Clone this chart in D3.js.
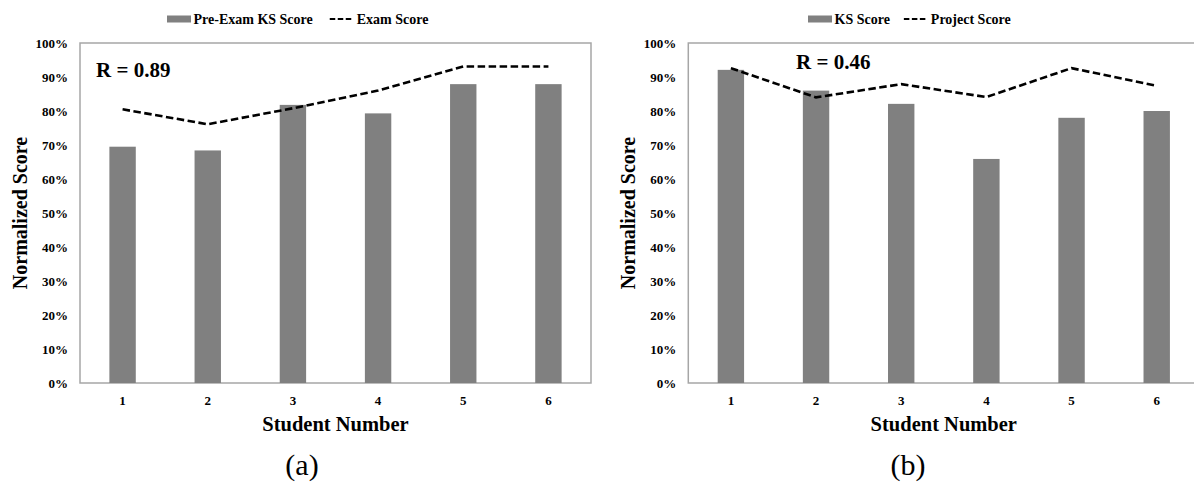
<!DOCTYPE html>
<html>
<head>
<meta charset="utf-8">
<script src="https://cdn.jsdelivr.net/npm/d3@7/dist/d3.min.js"></script>
<style>
  html, body { margin: 0; padding: 0; background: #fff; }
  svg { display: block; }
  text { font-family: "Liberation Serif", "Times New Roman", Times, serif; fill: #000; }
</style>
</head>
<body>
<svg id="chart" width="1194" height="483"></svg>
<script>
// Student numbers on the x axis
const students = ["1", "2", "3", "4", "5", "6"];

// Panel (a): pre-exam knowledge-structure score vs exam score (%)
const preExamKS = [69.5, 68.4, 81.8, 79.3, 87.9, 87.9];
const examScore = [80.5, 76.1, 80.8, 86.0, 93.1, 93.1];

// Panel (b): knowledge-structure score vs project score (%)
const ksScore = [92.1, 86.0, 82.1, 65.9, 78.0, 80.0];
const projectScore = [92.6, 84.0, 87.9, 84.1, 92.6, 87.4];

// Y axis ticks (%)
const yTicks = [0, 10, 20, 30, 40, 50, 60, 70, 80, 90, 100];

const svg = d3.select("#chart");

const BAR_COLOR = "#808080";
const FRAME_COLOR = "#a6a6a6";

function drawPanel(opt) {
  const g = svg.append("g");
  const plotTop = 43, plotBottom = 383;
  const x = d3.scaleBand().domain(students).range([opt.left, opt.left + 511]).padding(0);
  const y = d3.scaleLinear().domain([0, 100]).range([plotBottom, plotTop]);
  const barW = x.bandwidth() * 0.31;

  // plot frame
  g.append("rect")
    .attr("x", opt.left).attr("y", plotTop)
    .attr("width", 511).attr("height", plotBottom - plotTop)
    .attr("fill", "none").attr("stroke", FRAME_COLOR).attr("stroke-width", 1.5);

  // y axis labels
  const yAxis = d3.axisLeft(y).tickValues(yTicks).tickSize(0).tickPadding(12)
    .tickFormat(d => d + "%");
  const ya = g.append("g").attr("transform", `translate(${opt.left},0)`).call(yAxis);
  ya.select(".domain").remove();
  ya.selectAll("text")
    .style("font-family", '"Liberation Serif", "Times New Roman", serif')
    .style("font-weight", "bold").style("font-size", "13px").attr("fill", "#000");

  // x axis labels
  const xAxis = d3.axisBottom(x).tickSize(0).tickPadding(13);
  const xa = g.append("g").attr("transform", `translate(0,${plotBottom})`).call(xAxis);
  xa.select(".domain").remove();
  xa.selectAll("text")
    .style("font-family", '"Liberation Serif", "Times New Roman", serif')
    .style("font-weight", "bold").style("font-size", "13px").attr("fill", "#000");

  // bars
  g.selectAll("rect.bar").data(opt.bars).enter().append("rect")
    .attr("class", "bar")
    .attr("x", (d, i) => x(students[i]) + (x.bandwidth() - barW) / 2)
    .attr("width", barW)
    .attr("y", d => y(d))
    .attr("height", d => y(0) - y(d))
    .attr("fill", BAR_COLOR);

  // dashed line
  const line = d3.line()
    .x((d, i) => x(students[i]) + x.bandwidth() / 2)
    .y(d => y(d));
  g.append("path").datum(opt.line)
    .attr("d", line)
    .attr("fill", "none").attr("stroke", "#000")
    .attr("stroke-width", 2.6).attr("stroke-dasharray", "7.5,3.5");

  // correlation label
  g.append("text")
    .attr("x", opt.rX).attr("y", opt.rY)
    .attr("font-weight", "bold").attr("font-size", 21)
    .text(opt.rText);

  // axis titles
  const cx = opt.left + 255.5;
  g.append("text")
    .attr("x", cx).attr("y", 431)
    .attr("text-anchor", "middle")
    .attr("font-weight", "bold").attr("font-size", 20.5)
    .text("Student Number");
  g.append("text")
    .attr("transform", `translate(${opt.left - 53},${(plotTop + plotBottom) / 2}) rotate(-90)`)
    .attr("text-anchor", "middle")
    .attr("font-weight", "bold").attr("font-size", 20)
    .text("Normalized Score");

  // panel caption
  g.append("text")
    .attr("x", opt.captionX).attr("y", 475)
    .attr("text-anchor", "middle")
    .attr("font-size", 30)
    .text(opt.caption);

  // legend
  const lg = g.append("g").attr("transform", `translate(${opt.legendX},19)`);
  lg.append("rect").attr("x", 0).attr("y", -3.5).attr("width", 24).attr("height", 7)
    .attr("fill", BAR_COLOR);
  const t1 = lg.append("text").attr("x", 26.5).attr("y", 0).attr("dy", "0.35em")
    .attr("font-weight", "bold").attr("font-size", 14).text(opt.barName);
  const w1 = t1.node().getComputedTextLength();
  const lx = 26.5 + w1 + opt.legendGap;
  lg.append("line").attr("x1", lx).attr("x2", lx + 24).attr("y1", 0).attr("y2", 0)
    .attr("stroke", "#000").attr("stroke-width", 2).attr("stroke-dasharray", "5.5,2.5");
  lg.append("text").attr("x", lx + 27).attr("y", 0).attr("dy", "0.35em")
    .attr("font-weight", "bold").attr("font-size", 14).text(opt.lineName);
}

drawPanel({
  left: 80,
  bars: preExamKS, line: examScore,
  barName: "Pre-Exam KS Score", lineName: "Exam Score",
  rText: "R = 0.89", rX: 96, rY: 77,
  caption: "(a)", captionX: 302,
  legendX: 167, legendGap: 17
});

drawPanel({
  left: 688.3,
  bars: ksScore, line: projectScore,
  barName: "KS Score", lineName: "Project Score",
  rText: "R = 0.46", rX: 796, rY: 69,
  caption: "(b)", captionX: 908,
  legendX: 808, legendGap: 14
});
</script>
</body>
</html>
